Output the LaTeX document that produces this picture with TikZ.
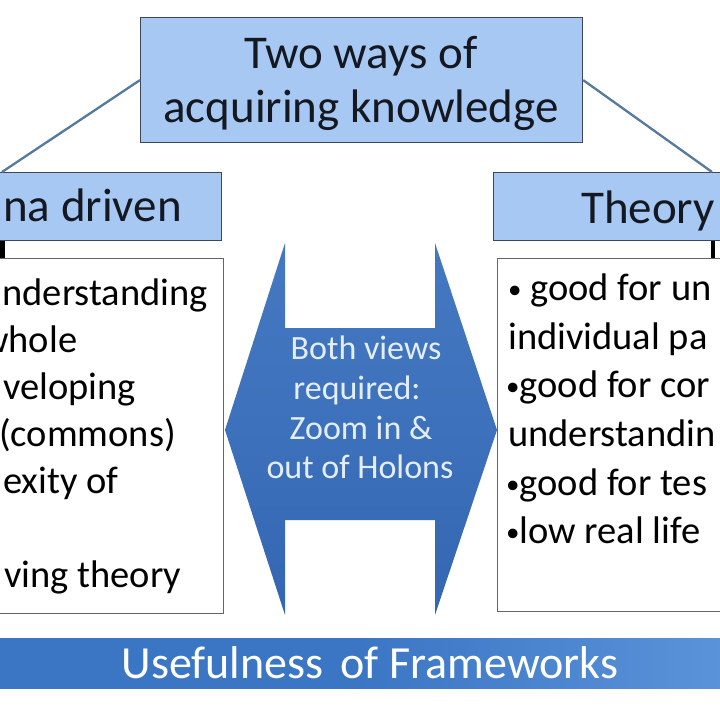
\documentclass[tikz,border=0pt]{standalone}
\usepackage{fontspec}
\setmainfont{Carlito}
\definecolor{hblue}{HTML}{A8C8F4}
\definecolor{boxline}{HTML}{3E4855}
\definecolor{linkc}{HTML}{56799E}
\definecolor{arrowb}{HTML}{3D71BB}
\definecolor{arrowd}{HTML}{3466B2}
\definecolor{arrowl}{HTML}{4479C2}
\definecolor{barb}{HTML}{3B76C5}
\definecolor{barl}{HTML}{5B93D9}
\definecolor{atext}{HTML}{E4EEFA}
\definecolor{ink}{HTML}{141820}
\newcommand{\smbul}{\raisebox{1.5pt}{\fontsize{27}{27}\selectfont\textbullet}}
\tikzset{
  hbox/.style={draw=boxline, line width=1.2pt, fill=hblue, inner sep=0pt},
  cbox/.style={draw=black!60, line width=1pt, fill=white, inner sep=0pt},
  big/.style={font=\fontsize{47}{56}\selectfont, text=ink, inner sep=0pt, anchor=base},
  hdr/.style={font=\fontsize{47}{56}\selectfont, text=ink, inner sep=0pt, anchor=base west},
  body/.style={font=\fontsize{38.5}{47}\selectfont, text=black, inner sep=0pt, anchor=base west},
  atxt/.style={font=\fontsize{34}{40}\selectfont, text=atext, inner sep=0pt, anchor=base},
  link/.style={draw=linkc, line width=2.3pt},
  conn/.style={draw=black, line width=4.5pt}
}
\begin{document}
\begin{tikzpicture}[x=1pt,y=-1pt]
\useasboundingbox (0,0) rectangle (720,720);
\clip (0,0) rectangle (720,720);
\fill[white] (0,0) rectangle (720,720);

% top box
\node[hbox, anchor=north west, minimum width=442pt, minimum height=125pt] (top) at (140,17) {};
\node[big] (t1) at (361,68) {Two ways of};
\node[big] (t2) at (361,122) {acquiring knowledge};

% headers
\node[hbox, anchor=north east, minimum width=400pt, minimum height=68pt] (lhead) at (222,172) {};
\node[hbox, anchor=north west, minimum width=400pt, minimum height=68pt] (rhead) at (493,172) {};
\node[hdr] (lht) at (3,221) {na driven};
\node[hdr] (rht) at (581,223) {Theory};

% connectors from top box
\coordinate (lc) at (2,0);
\coordinate (rc) at (712,0);
\draw[link] (top.west) -- (lhead.north -| lc);
\draw[link] (top.east) -- (rhead.north -| rc);

% content boxes
\node[cbox, anchor=north east, minimum width=400pt, minimum height=355pt] (lbox) at (224,258) {};
\node[cbox, anchor=north west, minimum width=400pt, minimum height=353pt] (rbox) at (497,258) {};

% short black connectors
\coordinate (lk) at (2.5,0);
\coordinate (rk) at (713,0);
\draw[conn] (lhead.south -| lk) -- (lbox.north -| lk);
\draw[conn] (rhead.south -| rk) -- (rbox.north -| rk);

% left box text
\node[body] (l1) at (-18,305) {understanding};
\node[body] (l2) at (-19,352) {whole};
\node[body] (l3) at (3,399) {veloping};
\node[body] (l4) at (-1,446) {(commons)};
\node[body] (l5) at (3,493) {exity of};
\node[body] (l6) at (4,587) {ving theory};

% right box text
\node[body] (r1) at (508,300) {\smbul\ good for un};
\node[body] (r2) at (508,349) {individual pa};
\node[body] (r3) at (506,397) {\smbul good for cor};
\node[body] (r4) at (508,446) {understandin};
\node[body] (r5) at (506,495) {\smbul good for tes};
\node[body] (r6) at (506,543) {\smbul low real life};

% double arrow
\shade[top color=arrowl, bottom color=arrowd, middle color=arrowb]
  (225,430) -- (285,243) -- (285,328) -- (435,328) -- (435,243) -- (497,430)
  -- (435,615) -- (435,520) -- (285,520) -- (285,615) -- cycle;
\node[atxt] (a1) at (366,359) {Both views};
\node[atxt] (a2) at (357,399) {required:};
\node[atxt] (a3) at (361,439) {Zoom in \&};
\node[atxt] (a4) at (360,478) {out of Holons};

% bottom bar
\shade[left color=barb, right color=barl, middle color=barb] (0,638) rectangle (720,688);
\node[minimum width=720pt, minimum height=50pt, inner sep=0pt, anchor=north west] (bar) at (0,638) {};
\node[font=\fontsize{46}{56}\selectfont, text=white, inner sep=0pt, anchor=base] (bt) at (370,678) {Usefulness\hspace{7pt} of Frameworks};
\end{tikzpicture}
\end{document}
